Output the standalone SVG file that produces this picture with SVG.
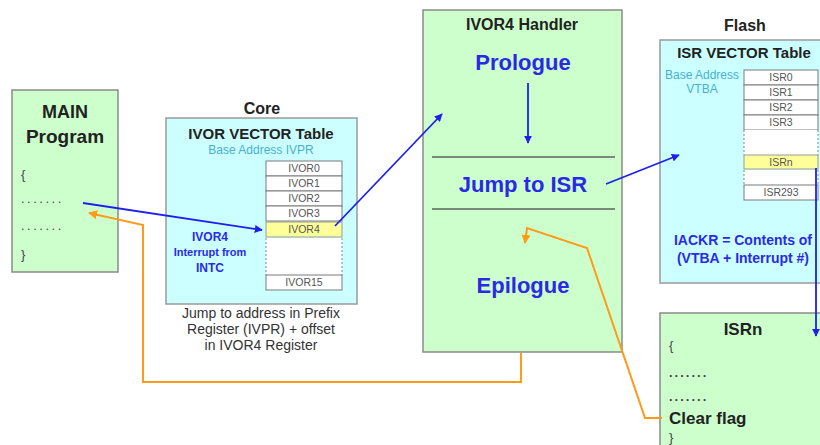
<svg xmlns="http://www.w3.org/2000/svg" width="820" height="445" viewBox="0 0 820 445">
  <style>
    text { font-family: "Liberation Sans", Arial, sans-serif; }
    .green { fill: #ccffcc; stroke: #8a8a8a; stroke-width: 1.5; }
    .cyan { fill: #ccffff; stroke: #9a9a9a; stroke-width: 1.5; }
    .row { fill: #ffffff; stroke: #7a7a7a; stroke-width: 1; }
    .hit { fill: #ffff99; stroke: #9a9a9a; stroke-width: 1; }
    .gap { fill: #ffffff; stroke: none; }
    .dash { stroke: #8a8a8a; stroke-width: 1; stroke-dasharray: 2 2; fill: none; }
    .cell { font-size: 10.5px; fill: #555; text-anchor: middle; }
    .title { font-weight: bold; fill: #222; text-anchor: middle; }
    .base { font-size: 12px; fill: #4ab0d0; text-anchor: middle; }
    .step { font-size: 22px; font-weight: bold; fill: #2a2ae6; text-anchor: middle; }
    .note { fill: #2a2ae6; font-weight: bold; text-anchor: middle; }
    .code { fill: #444; font-size: 13px; }
    .sep { stroke: #7a8a7a; stroke-width: 2; }
    .blue { stroke: #1f1fee; stroke-width: 1.8; fill: none; marker-end: url(#ab); }
    .orange { stroke: #ff9a1a; stroke-width: 2; fill: none; stroke-linejoin: miter; }
  </style>
  <defs>
    <marker id="ab" viewBox="0 0 10 10" refX="9" refY="5" markerWidth="8" markerHeight="8" markerUnits="userSpaceOnUse" orient="auto">
      <path d="M0,0 L10,5 L0,10 z" fill="#1f1fee"/>
    </marker>
    <marker id="ao" viewBox="0 0 10 10" refX="9" refY="5" markerWidth="9" markerHeight="9" markerUnits="userSpaceOnUse" orient="auto">
      <path d="M0,0 L10,5 L0,10 z" fill="#ff9a1a"/>
    </marker>
  </defs>

  <rect width="820" height="445" fill="#ffffff"/>

  <!-- Main program -->
  <g id="main">
    <rect class="green" x="12" y="90" width="106" height="182"/>
    <text class="title" x="65" y="118" font-size="18">MAIN</text>
    <text class="title" x="65" y="143" font-size="19">Program</text>
    <text class="code" x="21" y="179">{</text>
    <text class="code" x="21" y="203" letter-spacing="2.5" fill="#666">.......</text>
    <text class="code" x="21" y="230" letter-spacing="2.5" fill="#666">.......</text>
    <text class="code" x="21" y="259">}</text>
  </g>

  <!-- Core: IVOR vector table -->
  <g id="core">
    <text class="title" x="262" y="114" font-size="16">Core</text>
    <rect class="cyan" x="166" y="118" width="191" height="186"/>
    <text class="title" x="261" y="139" font-size="15">IVOR VECTOR Table</text>
    <text class="base" x="261" y="154">Base Address IVPR</text>
    <rect class="row" x="266" y="161" width="76" height="15"/>
    <rect class="row" x="266" y="176" width="76" height="15"/>
    <rect class="row" x="266" y="191" width="76" height="15"/>
    <rect class="row" x="266" y="206" width="76" height="15"/>
    <rect class="hit" x="266" y="222" width="76" height="15"/>
    <rect class="gap" x="266" y="238" width="76" height="37"/>
    <line class="dash" x1="266" y1="238" x2="266" y2="275"/>
    <line class="dash" x1="342" y1="238" x2="342" y2="275"/>
    <rect class="row" x="266" y="275" width="76" height="15"/>
    <text class="cell" x="304" y="172">IVOR0</text>
    <text class="cell" x="304" y="187">IVOR1</text>
    <text class="cell" x="304" y="202">IVOR2</text>
    <text class="cell" x="304" y="217">IVOR3</text>
    <text class="cell" x="304" y="233">IVOR4</text>
    <text class="cell" x="304" y="286">IVOR15</text>
    <text class="note" x="210" y="241" font-size="12" font-weight="normal">IVOR4</text>
    <text class="note" x="210" y="256" font-size="11">Interrupt from</text>
    <text class="note" x="210" y="272" font-size="12">INTC</text>
    <text x="261" y="318" font-size="14" fill="#333" text-anchor="middle">Jump to address in Prefix</text>
    <text x="261" y="334" font-size="14" fill="#333" text-anchor="middle">Register (IVPR) + offset</text>
    <text x="261" y="350" font-size="14" fill="#333" text-anchor="middle">in IVOR4 Register</text>
  </g>

  <!-- IVOR4 handler -->
  <g id="handler">
    <rect class="green" x="423" y="10" width="199" height="342"/>
    <text class="title" x="522" y="30" font-size="16">IVOR4 Handler</text>
    <text class="step" x="523" y="70">Prologue</text>
    <line class="sep" x1="432" y1="157" x2="615" y2="157"/>
    <text class="step" x="523" y="192">Jump to ISR</text>
    <line class="sep" x1="432" y1="209" x2="615" y2="209"/>
    <text class="step" x="523" y="293">Epilogue</text>
  </g>

  <!-- Flash: ISR vector table -->
  <g id="flash">
    <text class="title" x="745" y="31" font-size="16">Flash</text>
    <rect class="cyan" x="660" y="40" width="170" height="243"/>
    <text class="title" x="744" y="58" font-size="15">ISR VECTOR Table</text>
    <text class="base" x="702" y="79">Base Address</text>
    <text class="base" x="702" y="93">VTBA</text>
    <rect class="row" x="744" y="70" width="74" height="15"/>
    <rect class="row" x="744" y="85" width="74" height="15"/>
    <rect class="row" x="744" y="100" width="74" height="15"/>
    <rect class="row" x="744" y="115" width="74" height="15"/>
    <rect class="gap" x="744" y="130" width="74" height="25"/>
    <line class="dash" x1="744" y1="130" x2="744" y2="155"/>
    <line class="dash" x1="818" y1="130" x2="818" y2="155"/>
    <rect class="hit" x="744" y="155" width="74" height="14"/>
    <rect class="gap" x="744" y="170" width="74" height="15"/>
    <line class="dash" x1="744" y1="170" x2="744" y2="185"/>
    <line class="dash" x1="818" y1="170" x2="818" y2="185"/>
    <rect class="row" x="744" y="185" width="74" height="15"/>
    <text class="cell" x="781" y="81">ISR0</text>
    <text class="cell" x="781" y="96">ISR1</text>
    <text class="cell" x="781" y="111">ISR2</text>
    <text class="cell" x="781" y="126">ISR3</text>
    <text class="cell" x="781" y="166">ISRn</text>
    <text class="cell" x="781" y="196">ISR293</text>
    <text class="note" x="743" y="245" font-size="14">IACKR = Contents of</text>
    <text class="note" x="743" y="263" font-size="14">(VTBA + Interrupt #)</text>
  </g>

  <!-- ISRn routine -->
  <g id="isrn">
    <rect class="green" x="660" y="313" width="170" height="140"/>
    <text class="title" x="743" y="335" font-size="17">ISRn</text>
    <text class="code" x="669" y="350" font-size="11">{</text>
    <text class="code" x="669" y="377" font-weight="bold" letter-spacing="2">.......</text>
    <text class="code" x="669" y="401" font-weight="bold" letter-spacing="2">.......</text>
    <text x="669" y="424" font-size="17" font-weight="bold" fill="#222">Clear flag</text>
    <text class="code" x="669" y="442" font-size="11">}</text>
  </g>

  <!-- Connectors -->
  <g id="connectors">
    <line class="blue" x1="83" y1="203" x2="262" y2="230"/>
    <line class="blue" x1="335" y1="226" x2="442" y2="114"/>
    <line class="blue" x1="528" y1="83" x2="528" y2="143"/>
    <line class="blue" x1="606" y1="184" x2="679" y2="155"/>
    <line class="blue" x1="816" y1="168" x2="816" y2="336"/>
    <polyline class="orange" points="521,353 521,382 143,382 143,225 89,213" marker-end="url(#ao)"/>
    <polyline class="orange" points="662,418 645,418 587,248 527,228 525,243" marker-end="url(#ao)"/>
  </g>
</svg>
